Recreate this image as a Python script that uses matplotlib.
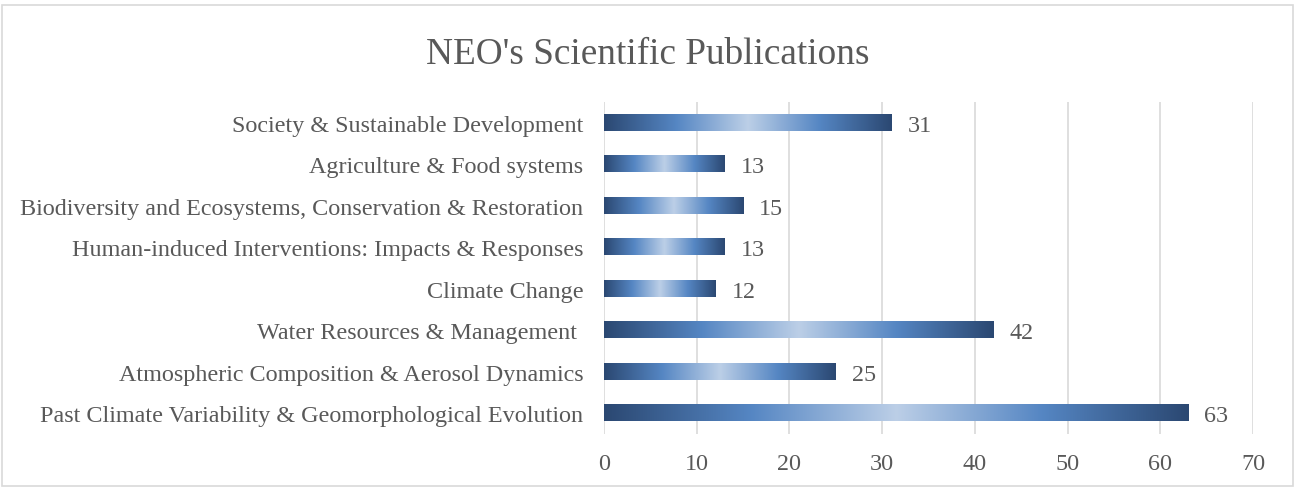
import numpy as np
import matplotlib.pyplot as plt
from matplotlib.colors import LinearSegmentedColormap
from matplotlib.patches import Rectangle

categories = [
    "Past Climate Variability & Geomorphological Evolution",
    "Atmospheric Composition & Aerosol Dynamics",
    "Water Resources & Management ",
    "Climate Change",
    "Human-induced Interventions: Impacts & Responses",
    "Biodiversity and Ecosystems, Conservation & Restoration",
    "Agriculture & Food systems",
    "Society & Sustainable Development",
]
values = [63, 25, 42, 12, 13, 15, 13, 31]
xticks = [0, 10, 20, 30, 40, 50, 60, 70]
title = "NEO's Scientific Publications"

plt.rcParams['font.family'] = ['Liberation Serif', 'DejaVu Serif']
txt = '#595959'
fs = 17.4

fig = plt.figure(figsize=(12.95, 4.89), dpi=100)
ax = fig.add_axes([604/1295, 1-435/489, (1253-604)/1295, (435-103)/489])

cmap = LinearSegmentedColormap.from_list('g', [
    (0.0, '#2b4872'), (0.25, '#5586c3'), (0.5, '#bccfe7'),
    (0.75, '#5586c3'), (1.0, '#2b4872')])
grad = np.linspace(0, 1, 256).reshape(1, -1)

h = 0.39
y = np.arange(len(categories))
for yi, v in zip(y, values):
    ax.imshow(grad, cmap=cmap, extent=[0, v, yi - h/2, yi + h/2],
              aspect='auto', interpolation='bilinear', zorder=3)
    ax.text(v + 1.75, yi, str(v), va='center_baseline', ha='left', fontsize=fs, color=txt)

ax.set_xlim(0, 70)
ax.set_ylim(-0.5, len(categories) - 0.5)
ax.set_yticks(y)
ax.set_yticklabels(categories, fontsize=fs, color=txt, va='center_baseline')
ax.set_xticks(xticks)
ax.set_xticklabels([str(t) for t in xticks], fontsize=fs, color=txt)
ax.tick_params(axis='both', length=0)
ax.tick_params(axis='y', pad=15)
ax.tick_params(axis='x', pad=14)
ax.grid(axis='x', color='#d9d9d9', linewidth=1.2, zorder=0)
ax.set_axisbelow(True)
for s in ax.spines.values():
    s.set_visible(False)

fig.text(0.5, 1 - 51/489, title, ha='center', va='center_baseline', fontsize=26.8, color=txt)
fig.patches.append(Rectangle((2/1295, 2/489), 1 - 4/1295, 1 - 8/489,
                             transform=fig.transFigure, fill=False,
                             edgecolor='#d9d9d9', linewidth=1.2))

fig.savefig('out.png', dpi=100)
